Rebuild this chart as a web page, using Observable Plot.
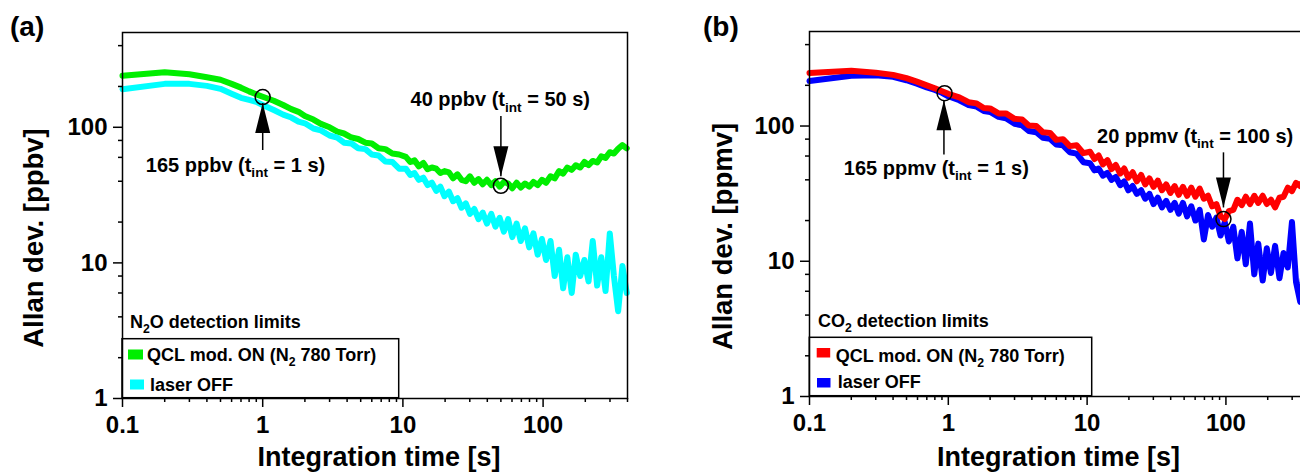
<!DOCTYPE html>
<html>
<head>
<meta charset="utf-8">
<script src="https://cdn.jsdelivr.net/npm/d3@7"></script>
<script src="https://cdn.jsdelivr.net/npm/@observablehq/plot@0.6"></script>
<style>
html, body { margin: 0; padding: 0; background: #fff; }
#wrap { position: relative; width: 1300px; height: 473px; overflow: hidden; background: #fff; }
#wrap > svg { position: absolute; top: 0; }
</style>
</head>
<body>
<div id="wrap"></div>
<script>
// ---------- data ----------
// integration time grid shared by all four series [s]
const tau = [0.1,0.2,0.3,0.4,0.5,0.6,0.7,0.8,0.9,1.0,
  1.2,1.4,1.6,1.8,2.0,2.3,2.6,3.0,3.4,3.8,
  4.3,4.8,5.4,6.0,6.7,7.5,8.4,9.4,
  10.5,11.3,12.1,13.0,14.0,15.0,16.1,17.3,18.5,19.8,
  21.3,22.8,24.5,26.2,28.1,30.1,32.3,34.6,37.1,39.8,
  42.7,45.7,49.0,52.5,56.3,60.3,64.7,69.3,74.3,79.6,
  85.3,91.5,98.1,105,113,121,130,139,149,160,
  171,184,197,211,226,243,260,279,299,320,
  343,368,395];

// (a) N2O, QCL mod. ON [ppbv]
const n2oOn = [240,255,246,234,224,209,196,184,175,168,
  157,146,136,130,121,114,106,100,93,90,
  84,82,77,76,70,69,64,63,
  60.5,55.5,57,51.5,54.5,49,50.5,49.5,46,47.5,
  46.5,42,45,41,40,43.5,39,41.5,38,41,
  37.5,40,36.5,39.5,38.5,35.5,39,36,38.5,36.5,
  39.5,37.5,41,39,43.5,42,47.5,45.5,50.5,48.5,
  52.5,50.5,55.5,52.5,56.5,55,61,59.5,65.5,64,
  69.5,74,70];
// (a) N2O, laser OFF [ppbv]
const n2oOff = [191,209,209,202,192,177,165,159,154,146,
  134,124,118,110,107,98,95,87,84,77,
  76,70,69,63,62,56,55.5,49.5,
  49.5,44.5,46,41,42.5,37.5,39,34,36.5,31,
  33.5,28.5,30,25.5,27.5,23,25,21,23.5,19.5,
  23,18.5,21.5,17,21,15.5,19.5,14.5,18,13,
  16.5,11.5,15,10.5,14.5,8,12.5,6.5,11,6,
  11.5,8,10.5,7.3,14.5,6.8,11,6.2,16.5,8,
  4.4,9.5,6];
// (b) CO2, QCL mod. ON [ppmv]
const co2On = [247,256,248,239,226,212,200,190,181,173,
  163,150,147,136,135,124,124,113,112,101,
  100,90,89,79,80,71,72,63,
  64.5,57,60.5,52,56,48,51.5,44.5,48.5,41.5,
  45.5,39,43.5,37,41,35.5,39.5,33.5,37,32,
  36,31,35.5,30.5,35,30,34.5,29,30.5,25.5,
  26.5,21.5,20.5,23.5,24,28.5,26,30,26.5,30.5,
  27,30.5,26.5,28.5,25,29.5,30,35,33,38,
  36,40.5,38.5];
// (b) CO2, laser OFF [ppmv]
const co2Off = [215,235,237,231,218,205,193,185,176,166,
  155,143,139,129,127,117,114,104,101,92,
  90,82,80.5,73,72,64,62.5,54,
  53,47,48.5,43,45,40,42,36.5,39,33.5,
  36,31.5,33.5,29,31.5,26.5,29.5,25,28,24,
  27,22.5,27,21.5,25.5,20,24,14.5,22,18,
  21,15.5,19.5,14,18,10.5,16.5,9.5,19,8,
  13.5,7.2,12.5,8.2,13,7.5,11.5,9,19.5,7,
  5,9.5,7];

// axis ticks
const xMajor = [0.1, 1, 10, 100];
const xMinor = [0.2,0.3,0.4,0.5,0.6,0.7,0.8,0.9,2,3,4,5,6,7,8,9,20,30,40,50,60,70,80,90,200,300,400];
const yMajor = [1, 10, 100];
const yMinor = [2,4,6,8,20,40,60,80,200,400];

// annotations
const arrowsA = [{t: 1, tip: 151, tail: 68, dir: "up"}, {t: 50, tip: 43.6, tail: 121, dir: "down"}];
const circlesA = [{t: 1, v: 167}, {t: 50, v: 37}];
const labelsA = [{t: 0.64, v: 52.6, text: "165 ppbv (t_{int} = 1 s)"}, {t: 49.5, v: 159, text: "40 ppbv (t_{int} = 50 s)"}];
const arrowsB = [{t: 0.93, tip: 155, tail: 61.7, dir: "up"}, {t: 96, tip: 25, tail: 63.9, dir: "down"}];
const circlesB = [{t: 0.94, v: 175}, {t: 96, v: 20.5}];
const labelsB = [{t: 0.82, v: 48.6, text: "165 ppmv (t_{int} = 1 s)"}, {t: 60, v: 84, text: "20 ppmv (t_{int} = 100 s)"}];

// ---------- drawing ----------
const FONT = "'Liberation Sans', Arial, Helvetica, sans-serif";
const SVGNS = "http://www.w3.org/2000/svg";

function fillSub(el, s, size) {
  const parts = s.split(/(_\{[^}]*\})/).filter(p => p);
  const shift = size * 0.28;
  let down = false;
  parts.forEach(p => {
    const ts = document.createElementNS(SVGNS, "tspan");
    if (p.startsWith("_{")) {
      ts.textContent = p.slice(2, -1);
      ts.setAttribute("font-size", size * 0.68);
      ts.setAttribute("dy", shift);
      down = true;
    } else {
      ts.textContent = p;
      if (down) { ts.setAttribute("dy", -shift); down = false; }
    }
    el.appendChild(ts);
  });
}
function subify(root, size) {
  root.querySelectorAll("text").forEach(t => {
    const s = t.textContent;
    if (!s.includes("_{")) return;
    while (t.firstChild) t.removeChild(t.firstChild);
    fillSub(t, s, size);
  });
}

const headUp = {draw(c) { c.moveTo(0, 0); c.lineTo(7.5, 30); c.lineTo(-7.5, 30); c.closePath(); }};
const headDown = {draw(c) { c.moveTo(0, 0); c.lineTo(7.5, -30); c.lineTo(-7.5, -30); c.closePath(); }};

function makePanel(cfg) {
  const rows = vals => tau.map((t, i) => ({t, v: vals[i]}));
  const svg = Plot.plot({
    width: cfg.width, height: 473,
    marginLeft: cfg.ml, marginRight: cfg.mr, marginTop: cfg.mt, marginBottom: cfg.mb,
    style: {fontFamily: FONT, fontSize: "24px", fontWeight: "bold", color: "#000", background: "transparent"},
    x: {type: "log", domain: [0.1, 400]},
    y: {type: "log", domain: [1, 500]},
    marks: [
      Plot.line(rows(cfg.first.vals), {x: "t", y: "v", stroke: cfg.first.color, strokeWidth: 6, strokeLinejoin: "round", strokeLinecap: "round"}),
      Plot.line(rows(cfg.second.vals), {x: "t", y: "v", stroke: cfg.second.color, strokeWidth: 6, strokeLinejoin: "round", strokeLinecap: "round"}),
      Plot.link(cfg.arrows, {x1: "t", x2: "t", y1: "tail", y2: "tip", stroke: "#000", strokeWidth: 1.5}),
      Plot.dot(cfg.arrows.filter(d => d.dir === "up"), {x: "t", y: "tip", symbol: headUp, fill: "#000", stroke: "none"}),
      Plot.dot(cfg.arrows.filter(d => d.dir === "down"), {x: "t", y: "tip", symbol: headDown, fill: "#000", stroke: "none"}),
      Plot.dot(cfg.circles, {x: "t", y: "v", r: 7.5, stroke: "#000", strokeWidth: 1.5, fill: "none"}),
      Plot.text(cfg.labels, {x: "t", y: "v", text: "text", fontSize: 20, fontWeight: "bold", fill: "#000"}),
      Plot.frame({stroke: "#000", strokeWidth: 1.5}),
      Plot.axisX(xMinor, {anchor: "bottom", tickSize: 4, tickFormat: () => "", label: null, strokeWidth: 1.5}),
      Plot.axisX(xMajor, {anchor: "bottom", tickSize: 9, tickPadding: 8, tickFormat: d => String(d), label: null, strokeWidth: 1.5}),
      Plot.axisY(yMinor, {anchor: "left", tickSize: 4, tickFormat: () => "", label: null, strokeWidth: 1.5}),
      Plot.axisY(yMajor, {anchor: "left", tickSize: 9, tickPadding: 6, tickFormat: d => String(d), label: null, strokeWidth: 1.5})
    ]
  });
  subify(svg, 20);
  svg.style.left = cfg.left + "px";
  return svg;
}

const wrap = document.getElementById("wrap");
wrap.appendChild(makePanel({
  left: 0, width: 650, ml: 122, mr: 23, mt: 32, mb: 75,
  first: {vals: n2oOn, color: "#00ee00"}, second: {vals: n2oOff, color: "#00ffff"},
  arrows: arrowsA, circles: circlesA, labels: labelsA
}));
wrap.appendChild(makePanel({
  left: 690, width: 640, ml: 119, mr: 21, mt: 31, mb: 77,
  first: {vals: co2Off, color: "#0000ff"}, second: {vals: co2On, color: "#ff0000"},
  arrows: arrowsB, circles: circlesB, labels: labelsB
}));

// overlay: panel letters, axis titles, legends
const ov = d3.select(wrap).append("svg")
  .attr("width", 1300).attr("height", 473)
  .style("left", "0px")
  .attr("font-family", FONT).attr("font-weight", "bold").attr("fill", "#000");

function txt(x, y, s, size, anchor = "start", rotate = false) {
  const t = ov.append("text").attr("font-size", size).attr("text-anchor", anchor);
  if (rotate) t.attr("transform", `translate(${x},${y}) rotate(-90)`);
  else t.attr("x", x).attr("y", y);
  fillSub(t.node(), s, size);
  return t;
}

txt(10, 36, "(a)", 28);
txt(703, 36, "(b)", 28);
txt(379, 466, "Integration time [s]", 27, "middle");
txt(1058.5, 466, "Integration time [s]", 27, "middle");
txt(43, 238, "Allan dev. [ppbv]", 27.5, "middle", true);
txt(732, 236.5, "Allan dev. [ppmv]", 27.5, "middle", true);

const legends = [
  {box: [122, 338.7, 276.7, 59], title: "N_{2}O detection limits", tx: 130, ty: 327.5,
   items: [{c: "#00ee00", sw: [128, 349.5, 15, 10], tx: 147, ty: 361, s: "QCL mod. ON (N_{2} 780 Torr)"},
           {c: "#00ffff", sw: [130, 379.5, 14, 10], tx: 150, ty: 390.5, s: "laser OFF"}]},
  {box: [809.3, 337.3, 282.4, 58.4], title: "CO_{2} detection limits", tx: 818, ty: 327.3,
   items: [{c: "#ff0000", sw: [816.7, 348, 13.5, 9.5], tx: 835.7, ty: 361.5, s: "QCL mod. ON (N_{2} 780 Torr)"},
           {c: "#0000ff", sw: [817, 378, 13.5, 9.5], tx: 837.7, ty: 388, s: "laser OFF"}]}
];
legends.forEach(L => {
  ov.append("rect").attr("x", L.box[0]).attr("y", L.box[1]).attr("width", L.box[2]).attr("height", L.box[3])
    .attr("fill", "none").attr("stroke", "#000").attr("stroke-width", 1.5);
  txt(L.tx, L.ty, L.title, 18);
  L.items.forEach(it => {
    ov.append("rect").attr("x", it.sw[0]).attr("y", it.sw[1]).attr("width", it.sw[2]).attr("height", it.sw[3]).attr("fill", it.c);
    txt(it.tx, it.ty, it.s, 18);
  });
});
</script>
</body>
</html>
